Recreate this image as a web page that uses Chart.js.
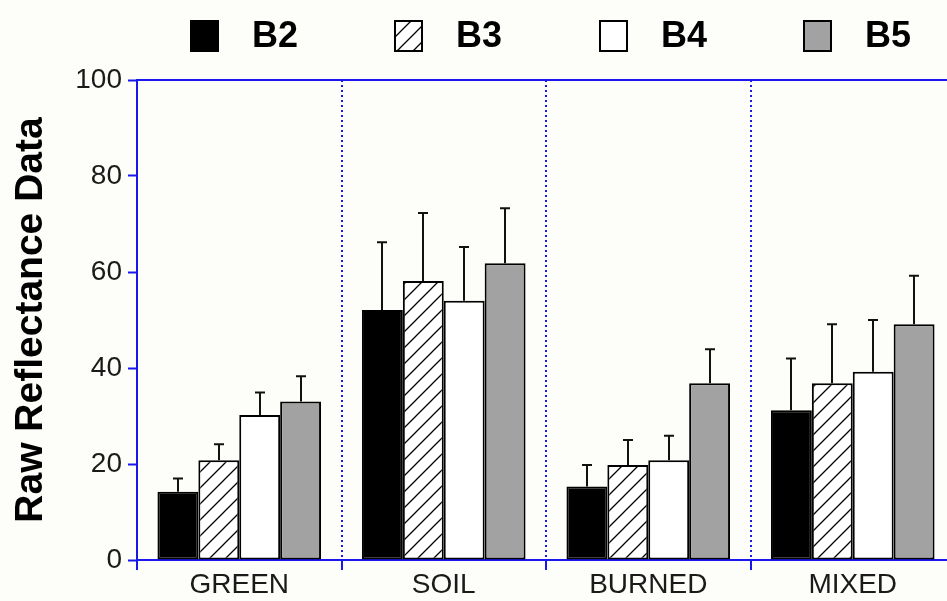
<!DOCTYPE html>
<html>
<head>
<meta charset="utf-8">
<script src="https://cdn.jsdelivr.net/npm/chart.js@4.4.1/dist/chart.umd.min.js"></script>
<style>
  html, body { margin: 0; padding: 0; background: #fdfdf9; overflow: hidden; }
  #wrap { width: 947px; height: 601px; overflow: hidden; position: relative; }
  canvas { display: block; }
</style>
</head>
<body>
<div id="wrap"><canvas id="chart" width="960" height="601"></canvas></div>
<script>
// Land-cover classes and band reflectance (mean with upper standard deviation)
const categories = ['GREEN', 'SOIL', 'BURNED', 'MIXED'];
const seriesNames = ['B2', 'B3', 'B4', 'B5'];

const b2Values = [14.2, 52.1, 15.3, 31.2];
const b3Values = [20.8, 58.1, 19.8, 36.8];
const b4Values = [30.2, 54.0, 20.8, 39.2];
const b5Values = [33.0, 61.8, 36.8, 49.1];

const b2Errors = [2.8, 14.1, 4.5, 10.8];
const b3Errors = [3.3, 14.2, 5.2, 12.3];
const b4Errors = [4.7, 11.2, 5.1, 10.8];
const b5Errors = [5.3, 11.5, 7.1, 10.1];

const yTicks = [0, 20, 40, 60, 80, 100];

const FONT = '"Liberation Sans", Arial, Helvetica, sans-serif';
const AXIS_BLUE = '#1818ee';

// Diagonal hatch fill for the B3 band
function makeHatch() {
  const s = 16;
  const c = document.createElement('canvas');
  c.width = s; c.height = s;
  const g = c.getContext('2d');
  g.fillStyle = '#ffffff';
  g.fillRect(0, 0, s, s);
  g.strokeStyle = '#000000';
  g.lineWidth = 1.3;
  g.beginPath();
  g.moveTo(-1, s + 1); g.lineTo(s + 1, -1);
  g.moveTo(-2, 2); g.lineTo(2, -2);
  g.moveTo(s - 2, s + 2); g.lineTo(s + 2, s - 2);
  g.stroke();
  return document.getElementById('chart').getContext('2d').createPattern(c, 'repeat');
}
const hatch = makeHatch();

const fills = ['#000000', hatch, '#ffffff', '#a2a2a2'];
const valueSets = [b2Values, b3Values, b4Values, b5Values];
const errorSets = [b2Errors, b3Errors, b4Errors, b5Errors];

const datasets = seriesNames.map((name, i) => ({
  label: name,
  data: valueSets[i],
  errors: errorSets[i],
  backgroundColor: fills[i],
  borderColor: '#000000',
  borderWidth: 2,
  borderSkipped: false,
  categoryPercentage: 0.8,
  barPercentage: 1.0
}));

// Upper error whiskers with caps
const errorBars = {
  id: 'errorBars',
  afterDatasetsDraw(chart) {
    const ctx = chart.ctx;
    const y = chart.scales.y;
    chart.data.datasets.forEach((ds, di) => {
      const meta = chart.getDatasetMeta(di);
      meta.data.forEach((bar, i) => {
        const top = y.getPixelForValue(ds.data[i] + ds.errors[i]);
        const cx = Math.round(bar.x);
        ctx.save();
        ctx.strokeStyle = '#111111';
        ctx.lineWidth = 2;
        ctx.beginPath();
        ctx.moveTo(cx, bar.y);
        ctx.lineTo(cx, top);
        ctx.moveTo(cx - 5, top);
        ctx.lineTo(cx + 5, top);
        ctx.stroke();
        ctx.restore();
      });
    });
  }
};

// Frame line along the top of the plot
const topFrame = {
  id: 'topFrame',
  afterDraw(chart) {
    const { ctx, chartArea } = chart;
    ctx.save();
    ctx.strokeStyle = AXIS_BLUE;
    ctx.lineWidth = 2;
    ctx.beginPath();
    ctx.moveTo(chartArea.left, chartArea.top);
    ctx.lineTo(chart.width, chartArea.top);
    ctx.stroke();
    ctx.restore();
  }
};

// Legend row: one swatch + label above each class column
const legendRow = {
  id: 'legendRow',
  afterDraw(chart) {
    const ctx = chart.ctx;
    const x = chart.scales.x;
    ctx.save();
    ctx.font = 'bold 36px ' + FONT;
    ctx.textBaseline = 'middle';
    chart.data.datasets.forEach((ds, i) => {
      const boxW = 27, boxH = 30, gap = 34;
      const tw = ctx.measureText(ds.label).width;
      const left = Math.round(x.getPixelForValue(i) - (boxW + gap + tw) / 2 + 5);
      ctx.fillStyle = ds.backgroundColor;
      ctx.fillRect(left, 21, boxW, boxH);
      ctx.lineWidth = 2;
      ctx.strokeStyle = '#000000';
      ctx.strokeRect(left, 21, boxW, boxH);
      ctx.fillStyle = '#000000';
      ctx.fillText(ds.label, left + boxW + gap, 37);
    });
    ctx.restore();
  }
};

new Chart(document.getElementById('chart'), {
  type: 'bar',
  data: { labels: categories, datasets },
  plugins: [errorBars, topFrame, legendRow],
  options: {
    responsive: false,
    animation: false,
    devicePixelRatio: 1,
    layout: { padding: { left: 0, right: 5, top: 80, bottom: 0 } },
    plugins: {
      legend: { display: false },
      tooltip: { enabled: false }
    },
    scales: {
      x: {
        z: 1,
        offset: true,
        grid: {
          offset: true,
          display: true,
          drawOnChartArea: true,
          drawTicks: true,
          color: AXIS_BLUE,
          lineWidth: 2,
          tickColor: AXIS_BLUE,
          tickWidth: 2,
          tickLength: 10
        },
        border: { display: true, color: AXIS_BLUE, width: 2, dash: [2, 3] },
        ticks: {
          color: '#1a1a1a',
          font: { family: FONT, size: 28 },
          padding: -2,
          maxRotation: 0
        },
        afterFit(scale) { scale.height = 41; }
      },
      y: {
        min: 0,
        max: 100,
        afterBuildTicks(scale) { scale.ticks = yTicks.map(v => ({ value: v })); },
        grid: {
          drawOnChartArea: false,
          drawTicks: true,
          tickColor: AXIS_BLUE,
          tickWidth: 2,
          tickLength: 9
        },
        border: { display: true, color: AXIS_BLUE, width: 2 },
        ticks: {
          color: '#1a1a1a',
          font: { family: FONT, size: 28 },
          padding: 6
        },
        title: {
          display: true,
          text: 'Raw Reflectance Data',
          color: '#000000',
          font: { family: FONT, size: 39, weight: 'bold' },
          padding: { top: 8, bottom: 0 }
        },
        afterFit(scale) { scale.width = 137; }
      }
    }
  }
});
</script>
</body>
</html>
